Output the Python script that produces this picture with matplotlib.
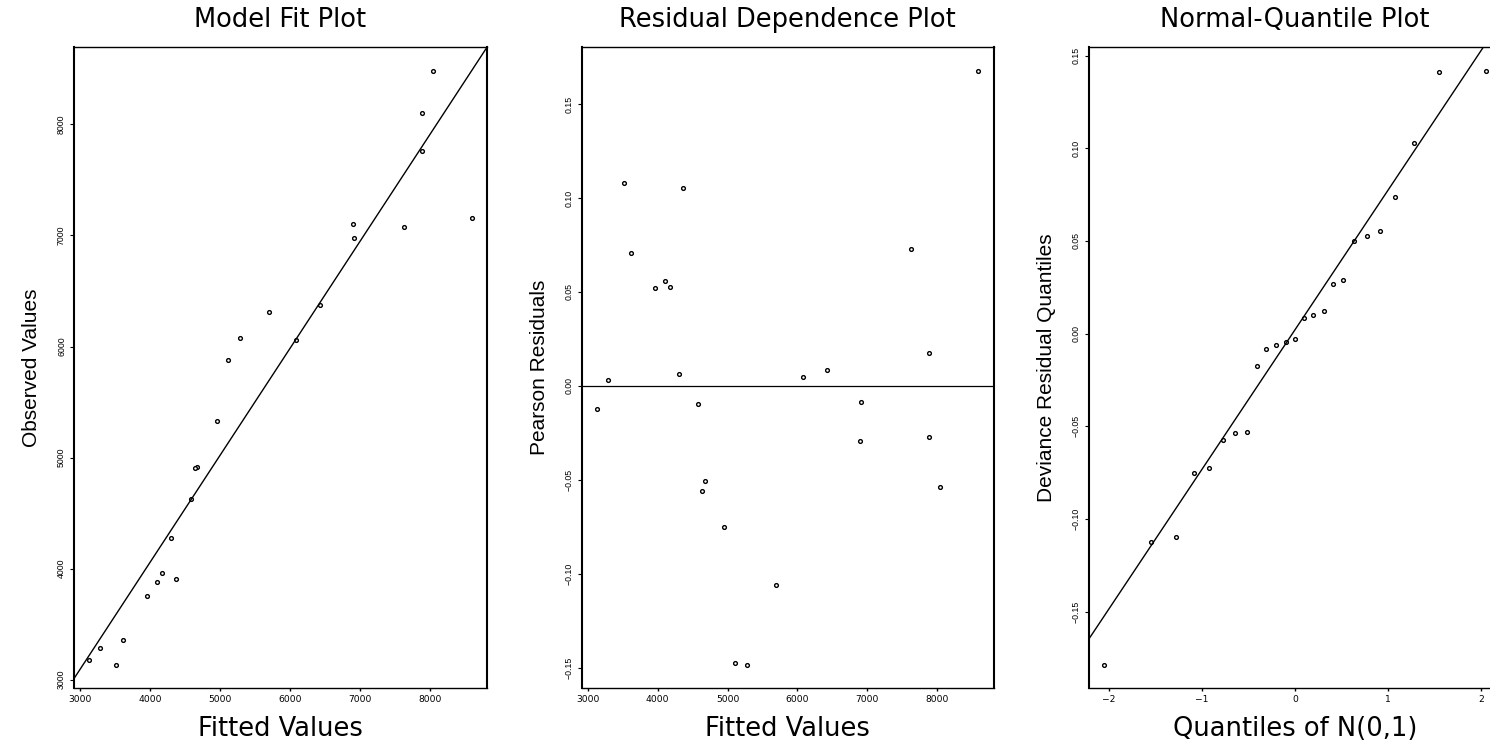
import matplotlib
matplotlib.use("Agg")
import matplotlib.pyplot as plt
from matplotlib import font_manager

# values
fitted = [8596, 3514, 4367, 3614, 7629, 3957, 4100, 4171, 7886, 4300, 6429, 6081, 3286,
          3129, 4576, 6914, 6896, 7886, 4675, 4640, 8038, 4953, 5700, 5114, 5286]
observed = [7157, 3136, 3907, 3360, 7072, 3757, 3877, 3958, 7757, 4279, 6378, 6060, 3283,
            3175, 4628, 6973, 7103, 8105, 4912, 4910, 8481, 5328, 6315, 5880, 6078]
pearson = [0.1676, 0.108, 0.1053, 0.0707, 0.073, 0.0521, 0.056, 0.0525, 0.0176, 0.0062, 0.0083, 0.0046, 0.0032,
           -0.0124, -0.0098, -0.0083, -0.0293, -0.0271, -0.0507, -0.0561, -0.0536, -0.0752, -0.106, -0.1477, -0.1483]

normal_q = [-2.05, -1.55, -1.28, -1.08, -0.92, -0.77, -0.64, -0.52, -0.41, -0.31, -0.20, -0.10, 0.0,
            0.10, 0.20, 0.31, 0.41, 0.52, 0.64, 0.77, 0.92, 1.08, 1.28, 1.55, 2.05]
deviance_q = [-0.1786, -0.1124, -0.1095, -0.0752, -0.0727, -0.0572, -0.0534, -0.0532, -0.0176, -0.0085, -0.0061,
              -0.0045, -0.0031, 0.0085, 0.0099, 0.0124, 0.0268, 0.0291, 0.050, 0.0527, 0.0552, 0.0735, 0.1027,
              0.1412, 0.1417]

value_ticks = [3000, 4000, 5000, 6000, 7000, 8000]
resid_ticks = [-0.15, -0.10, -0.05, 0.00, 0.05, 0.10, 0.15]
q_ticks = [-2, -1, 0, 1, 2]

# reference lines (intercept, slope)
fit_line = (207, 0.963)
qq_line = (0.002, 0.0753)


def lab(v, fmt):
    return (fmt % v).replace("-", "\u2212")


names = {f.name for f in font_manager.fontManager.ttflist}
if "Liberation Sans Narrow" in names:
    narrow, ylab_size, ytick_size = "Liberation Sans Narrow", 18, 7.5
else:
    narrow, ylab_size, ytick_size = "Liberation Sans", 15, 6.3

W, H = 1490, 745
fig = plt.figure(figsize=(14.9, 7.45), dpi=100)


def make_ax(left, right):
    return fig.add_axes([left / W, (H - 688.3) / H, (right - left) / W, (688.3 - 47.3) / H])


def style(ax, width_px, title, xlabel, ylabel, xt, xl, yt, yl):
    for s in ["left", "right"]:
        ax.spines[s].set_linewidth(1.5)
    for s in ["top", "bottom"]:
        ax.spines[s].set_linewidth(1.0)
    ax.set_xticks(xt, xl, fontsize=6.6, family="DejaVu Sans")
    ax.set_yticks(yt, yl, fontsize=ytick_size, family=narrow, rotation=90, va="center")
    ax.tick_params(axis="x", length=2.5, width=1.0, pad=2.5)
    ax.tick_params(axis="y", length=3, width=0.8, pad=2.7)
    ax.set_title(title, fontsize=18.5, pad=14.4, family="DejaVu Sans")
    ax.set_xlabel(xlabel, fontsize=18.5, family="DejaVu Sans")
    ax.xaxis.set_label_coords(0.5, -27.4 / 641)
    ax.set_ylabel(ylabel, fontsize=ylab_size, family=narrow)
    ax.yaxis.set_label_coords(-33 / width_px, 0.5)


def points(ax, x, y):
    ax.plot(x, y, marker="o", ls="none", ms=2.7, mfc="white", mec="black", mew=1.0)
    # R style: data range padded by 4 %, then freeze before the reference lines
    ax.margins(0.04)
    ax.autoscale_view()
    ax.set_autoscale_on(False)


# Model fit
ax1 = make_ax(74, 487)
points(ax1, fitted, observed)
ax1.axline((0, fit_line[0]), slope=fit_line[1], color="black", lw=1.0)
style(ax1, 413, "Model Fit Plot", "Fitted Values", "Observed Values",
      value_ticks, [str(v) for v in value_ticks], value_ticks, [str(v) for v in value_ticks])

# Residual dependence
ax2 = make_ax(581.7, 993.7)
points(ax2, fitted, pearson)
ax2.axhline(0, color="black", lw=0.9)
style(ax2, 412, "Residual Dependence Plot", "Fitted Values", "Pearson Residuals",
      value_ticks, [str(v) for v in value_ticks], resid_ticks, [lab(v, "%.2f") for v in resid_ticks])

# Normal quantile
ax3 = make_ax(1089, 1500.8)
points(ax3, normal_q, deviance_q)
ax3.axline((0, qq_line[0]), slope=qq_line[1], color="black", lw=1.0)
style(ax3, 411.8, "Normal-Quantile Plot", "Quantiles of N(0,1)", "Deviance Residual Quantiles",
      q_ticks, [lab(v, "%d") for v in q_ticks], resid_ticks, [lab(v, "%.2f") for v in resid_ticks])

fig.savefig("out.png", dpi=100)
